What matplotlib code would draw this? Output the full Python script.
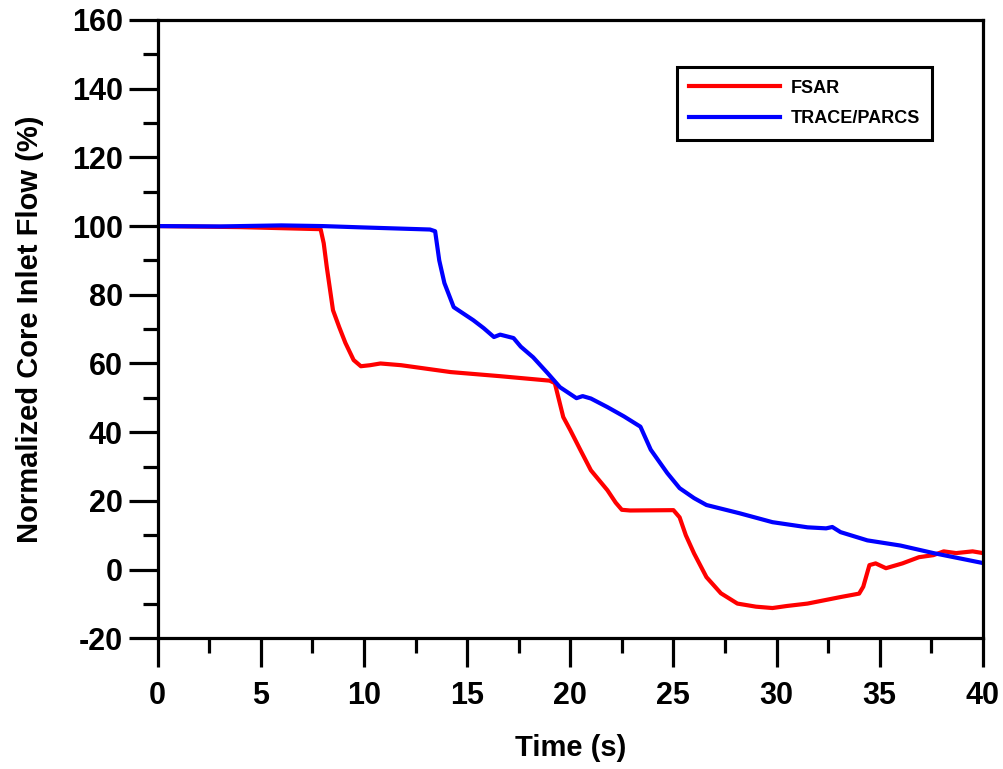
import matplotlib
matplotlib.use('Agg')
import matplotlib.pyplot as plt
from matplotlib.ticker import MultipleLocator

plt.rcParams['font.family'] = ['Liberation Sans', 'DejaVu Sans']
plt.rcParams['font.weight'] = 'bold'
plt.rcParams['axes.unicode_minus'] = False

# FSAR curve (time s, normalized flow %)
fsar_t = [0, 4, 7.9, 8.05, 8.2, 8.5, 8.8, 9.1, 9.5, 9.85, 10.3, 10.8, 11.8, 14.2, 16.6, 19.0,
          19.25, 19.66, 20.0, 20.5, 21.0, 21.8, 22.2, 22.5, 22.9, 25.0, 25.3, 25.6, 26.0,
          26.6, 27.3, 28.1, 29.0, 29.8, 30.5, 31.5, 33.1, 34.0, 34.2, 34.5, 34.8, 35.3,
          36.1, 36.9, 37.6, 38.1, 38.7, 39.5, 40]
fsar_v = [100, 99.7, 99.1, 95, 88, 75.5, 70.6, 66, 61, 59.2, 59.5, 60, 59.5, 57.5, 56.3, 55,
          54.3, 44.4, 40.6, 34.7, 28.9, 23.1, 19.5, 17.4, 17.2, 17.3, 15.2, 10, 4.7,
          -2.2, -6.9, -9.9, -10.8, -11.2, -10.6, -9.9, -8.0, -7.0, -5, 1.3, 1.8, 0.4,
          1.8, 3.6, 4.2, 5.3, 4.8, 5.3, 4.8]

# TRACE/PARCS curve
trace_t = [0, 3, 6, 8, 10, 13.2, 13.45, 13.65, 13.9, 14.35, 14.8, 15.3, 15.8, 16.3, 16.6,
           17.25, 17.6, 18.2, 18.9, 19.5, 20.3, 20.6, 21.0, 21.8, 22.6, 23.4, 23.9, 24.7,
           25.3, 26.0, 26.6, 28.2, 29.8, 31.5, 32.4, 32.7, 33.1, 34.4, 36.0, 37.6, 40]
trace_v = [100, 99.9, 100.2, 100, 99.6, 99, 98.5, 90, 83.4, 76.4, 74.6, 72.6, 70.3, 67.7, 68.4,
           67.4, 64.9, 61.8, 57.2, 53.1, 49.9, 50.5, 49.8, 47.3, 44.6, 41.6, 34.9, 28.1,
           23.7, 20.8, 18.8, 16.4, 13.8, 12.3, 12.0, 12.4, 10.9, 8.5, 7.0, 4.8, 1.9]

fig = plt.figure(figsize=(10.04, 7.69), dpi=100)
ax = fig.add_axes([0.157, 0.170, 0.822, 0.804])

ax.plot(fsar_t, fsar_v, color='#ff0000', lw=3, label='FSAR')
ax.plot(trace_t, trace_v, color='#0000ff', lw=3, label='TRACE/PARCS')

ax.set_xlim(0, 40)
ax.set_ylim(-20, 160)
ax.xaxis.set_major_locator(MultipleLocator(5))
ax.xaxis.set_minor_locator(MultipleLocator(2.5))
ax.yaxis.set_major_locator(MultipleLocator(20))
ax.yaxis.set_minor_locator(MultipleLocator(10))

for s in ax.spines.values():
    s.set_linewidth(2.3)
ax.tick_params(which='major', direction='out', length=21, width=2.3, labelsize=22)
ax.tick_params(which='minor', direction='out', length=11, width=2.3)
ax.tick_params(axis='x', which='major', pad=10)
ax.tick_params(axis='y', which='major', pad=4)
for lab in ax.get_xticklabels() + ax.get_yticklabels():
    lab.set_fontweight('bold')

ax.set_xlabel('Time (s)', fontsize=21, fontweight='bold', labelpad=16)
ax.set_ylabel('Normalized Core Inlet Flow (%)', fontsize=21, fontweight='bold', labelpad=20)

leg = ax.legend(loc='upper left', bbox_to_anchor=(0.629, 0.924),
                prop={'weight': 'bold', 'size': 13}, frameon=True, fancybox=False,
                framealpha=1, handlelength=5.0, handletextpad=0.6, borderpad=0.7,
                labelspacing=0.75, borderaxespad=0)
leg.get_frame().set_edgecolor('black')
leg.get_frame().set_linewidth(2.2)

fig.savefig('out.png', dpi=100)
